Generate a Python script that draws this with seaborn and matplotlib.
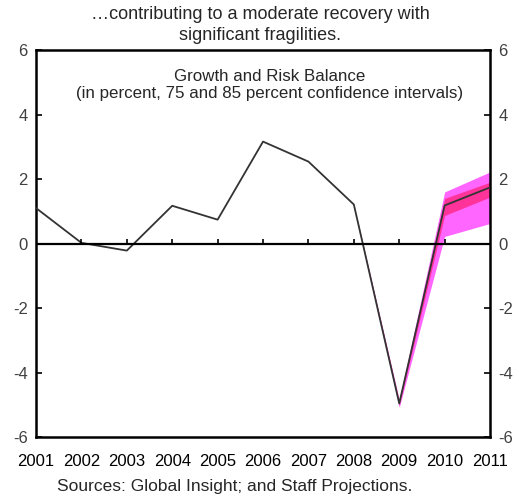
import numpy as np
import pandas as pd
import matplotlib
matplotlib.use('Agg')
import matplotlib.pyplot as plt
import seaborn as sns

# 数据
years = [2001, 2002, 2003, 2004, 2005, 2006, 2007, 2008, 2009, 2010, 2011]
growth = [1.1, 0.02, -0.22, 1.17, 0.74, 3.16, 2.54, 1.21, -4.96, 1.18, 1.74]

fan_years = [2008, 2009, 2010, 2011]
outer_low = [1.21, -5.08, 0.22, 0.62]
outer_high = [1.21, -4.84, 1.60, 2.22]
inner_low = [1.21, -5.01, 0.87, 1.44]
inner_high = [1.21, -4.90, 1.40, 1.90]

y_ticks = [-6, -4, -2, 0, 2, 4, 6]

sns.set_style("white")
plt.rcParams['font.family'] = ['Liberation Sans', 'DejaVu Sans']
plt.rcParams['axes.unicode_minus'] = False

fig = plt.figure(figsize=(5.19, 4.99), dpi=100)
ax = fig.add_axes([0.0694, 0.1242, 0.8748, 0.7756])

# 置信区间
ax.fill_between(fan_years, outer_low, outer_high, color='#FF66FF', lw=0, zorder=1)
ax.fill_between(fan_years, inner_low, inner_high, color='#FF3399', lw=0, zorder=2)

df = pd.DataFrame({'year': years, 'growth': growth})
sns.lineplot(data=df, x='year', y='growth', ax=ax, color='#333333', lw=1.3, zorder=3)

ax.axhline(0, color='black', lw=1.6, zorder=4)
ax.vlines(years[1:-1], 0, 0.13, color='black', lw=1.2, zorder=4)

ax.set_xlim(2001, 2011)
ax.set_ylim(-6, 6)
ax.set_xticks(years)
ax.set_xticklabels([str(y) for y in years])
ax.set_yticks(y_ticks)
ax.set_xlabel('')
ax.set_ylabel('')

ax.tick_params(axis='x', length=0, pad=12, labelsize=12, labelcolor='black')
ax.tick_params(axis='y', direction='in', length=4, width=1.2, color='black',
               left=True, right=True, labelleft=True, labelright=True,
               pad=6, labelsize=12, labelcolor='#404040')
for s in ax.spines.values():
    s.set_color('black')
    s.set_linewidth(1.8)

ax.text(0.515, 0.95, 'Growth and Risk Balance\n(in percent, 75 and 85 percent confidence intervals)',
        transform=ax.transAxes, ha='center', va='top', fontsize=12.2, linespacing=1.15)

fig.text(0.501, 0.988, '…contributing to a moderate recovery with\nsignificant fragilities.',
         ha='center', va='top', fontsize=13, linespacing=1.3)
fig.text(0.11, 0.026, 'Sources: Global Insight; and Staff Projections.',
         ha='left', va='center', fontsize=12.5)

fig.savefig('out.png', dpi=100)
